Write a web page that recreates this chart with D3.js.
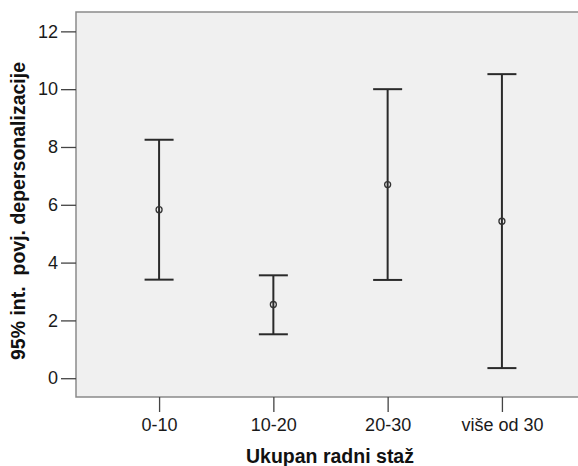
<!DOCTYPE html>
<html>
<head>
<meta charset="utf-8">
<script src="https://cdn.jsdelivr.net/npm/d3@7"></script>
<style>
  body { margin: 0; background: #fff; }
  svg { display: block; font-family: "Liberation Sans", Arial, sans-serif; }
</style>
</head>
<body>
<div id="chart"></div>
<script>
const categories = ['0-10', '10-20', '20-30', 'više od 30'];
const means = [5.83, 2.55, 6.70, 5.43];
const lower = [3.41, 1.52, 3.40, 0.35];
const upper = [8.25, 3.56, 10.0, 10.52];
const yTicks = [0, 2, 4, 6, 8, 10, 12];

const width = 578, height = 466;
const margin = { top: 12, left: 76 };
const plotW = 509, plotH = 385;

const svg = d3.select('#chart').append('svg')
    .attr('width', width)
    .attr('height', height);

const g = svg.append('g')
    .attr('transform', `translate(${margin.left},${margin.top})`);

const x = d3.scalePoint()
    .domain(categories)
    .range([0, plotW])
    .padding(0.727);

const y = d3.scaleLinear()
    .domain([-0.65, 12.67])
    .range([plotH, 0]);

// plot background
g.append('rect')
    .attr('x', 0).attr('y', 0)
    .attr('width', plotW).attr('height', plotH)
    .attr('fill', '#f0f0f0')
    .attr('stroke', '#8a8a8a')
    .attr('stroke-width', 1.5);

// axes
const yAxis = g.append('g')
    .call(d3.axisLeft(y).tickValues(yTicks).tickSize(15).tickSizeOuter(0).tickPadding(3));
const xAxis = g.append('g')
    .attr('transform', `translate(0,${plotH})`)
    .call(d3.axisBottom(x).tickSize(15).tickSizeOuter(0).tickPadding(6));

[yAxis, xAxis].forEach(a => {
    a.select('.domain').remove();
    a.selectAll('.tick line').attr('stroke', '#444').attr('stroke-width', 1.3);
    a.selectAll('.tick text')
        .attr('fill', '#1a1a1a')
        .style('font-size', '18px');
});

// error bars
const cap = 14.5;
const bars = g.selectAll('.bar')
    .data(categories)
    .join('g')
    .attr('class', 'bar');

bars.append('line')
    .attr('x1', d => x(d)).attr('x2', d => x(d))
    .attr('y1', (d, i) => y(upper[i]))
    .attr('y2', (d, i) => y(lower[i]))
    .attr('stroke', '#2a2a2a').attr('stroke-width', 2);

bars.append('line')
    .attr('x1', d => x(d) - cap).attr('x2', d => x(d) + cap)
    .attr('y1', (d, i) => y(upper[i])).attr('y2', (d, i) => y(upper[i]))
    .attr('stroke', '#2a2a2a').attr('stroke-width', 2);

bars.append('line')
    .attr('x1', d => x(d) - cap).attr('x2', d => x(d) + cap)
    .attr('y1', (d, i) => y(lower[i])).attr('y2', (d, i) => y(lower[i]))
    .attr('stroke', '#2a2a2a').attr('stroke-width', 2);

bars.append('circle')
    .attr('cx', d => x(d))
    .attr('cy', (d, i) => y(means[i]))
    .attr('r', 3)
    .attr('fill', 'none')
    .attr('stroke', '#333')
    .attr('stroke-width', 1.3);

// axis titles
svg.append('text')
    .attr('x', 330)
    .attr('y', 463)
    .attr('text-anchor', 'middle')
    .style('font-size', '19.5px')
    .style('font-weight', 'bold')
    .attr('fill', '#111')
    .text('Ukupan radni staž');

svg.append('text')
    .attr('transform', 'translate(25,211) rotate(-90)')
    .attr('text-anchor', 'middle')
    .style('font-size', '19.5px')
    .style('font-weight', 'bold')
    .attr('fill', '#111')
    .style('white-space', 'pre')
    .text('95% int.  povj. depersonalizacije');
</script>
</body>
</html>
